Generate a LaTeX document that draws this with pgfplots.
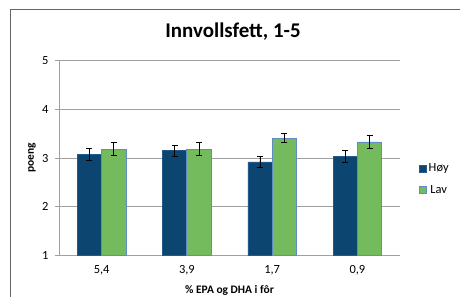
\documentclass[border=0pt]{standalone}
\usepackage{pgfplots}
\pgfplotsset{compat=1.18}
\usepackage{fontspec}
\setmainfont{Carlito}
\definecolor{hoy}{RGB}{11,69,112}
\definecolor{lav}{RGB}{115,187,92}
\definecolor{edge}{RGB}{95,140,195}
\definecolor{gridc}{RGB}{160,160,160}
\begin{document}
\begin{tikzpicture}
\path[use as bounding box] (0,0) rectangle (460bp,-297bp);
\draw[gray!80!black, line width=0.8bp] (10bp,-310bp) -- (10bp,-9bp) -- (480bp,-9bp);
\node[font=\bfseries\fontsize{21}{24}\selectfont] at (233bp,-32bp) {Innvollsfett, 1-5};
\begin{axis}[
  at={(59bp,-255.5bp)}, anchor=south west,
  scale only axis, width=341bp, height=195bp,
  xmin=-0.5, xmax=3.5, ymin=1, ymax=5,
  ybar, bar width=0.285, bar shift auto=false,
  xtick={0,1,2,3}, xticklabels={{5,4},{3,9},{1,7},{0,9}},
  xtick style={draw=none},
  minor xtick={-0.5,0.5,1.5,2.5,3.5},
  minor x tick style={gridc, line width=0.6bp},
  ytick={1,2,3,4,5},
  y tick style={gridc, line width=0.6bp},
  tick align=outside, major tick length=4bp, minor tick length=4bp,
  ymajorgrids, grid style={gridc, line width=0.8bp},
  axis x line*=bottom, axis y line*=left,
  axis line style={gridc, line width=0.8bp},
  tick label style={font=\fontsize{12.5}{14}\selectfont},
  /pgf/number format/assume math mode=true,
  x tick label style={yshift=-2bp},
  y tick label style={xshift=-3bp},
  xlabel={\bfseries\% EPA og DHA i fôr},
  ylabel={\bfseries poeng},
  label style={font=\fontsize{11.5}{13}\selectfont},
  xlabel style={at={(axis description cs:0.5,0)}, anchor=center, yshift=-34.5bp},
  ylabel style={at={(axis description cs:-0.079,0.5)}, anchor=center},
  legend style={at={(axis description cs:1.055,0.39)}, anchor=west, draw=none, fill=none,
    inner sep=0pt,
    font=\fontsize{12.5}{14}\selectfont, row sep=8bp,
    /tikz/every even column/.append style={column sep=1bp}},
  legend image code/.code={\draw[#1] (0bp,-3.5bp) rectangle (7bp,3.5bp);},
  error bars/y dir=both, error bars/y explicit,
  error bars/error bar style={black, line width=0.8bp},
  error bars/error mark options={rotate=90, mark size=3bp, line width=0.8bp, black},
]
\addplot[fill=hoy, draw=hoy!70!edge, line width=0.5bp, bar shift=-0.1425] coordinates {
 (0,3.08) +- (0,0.12)
 (1,3.15) +- (0,0.11)
 (2,2.92) +- (0,0.12)
 (3,3.03) +- (0,0.12)
};
\addplot[fill=lav, draw=edge, line width=0.8bp, bar shift=0.1425] coordinates {
 (0,3.18) +- (0,0.13)
 (1,3.18) +- (0,0.13)
 (2,3.41) +- (0,0.09)
 (3,3.33) +- (0,0.125)
};
\legend{Høy,Lav}
\end{axis}
\end{tikzpicture}
\end{document}
